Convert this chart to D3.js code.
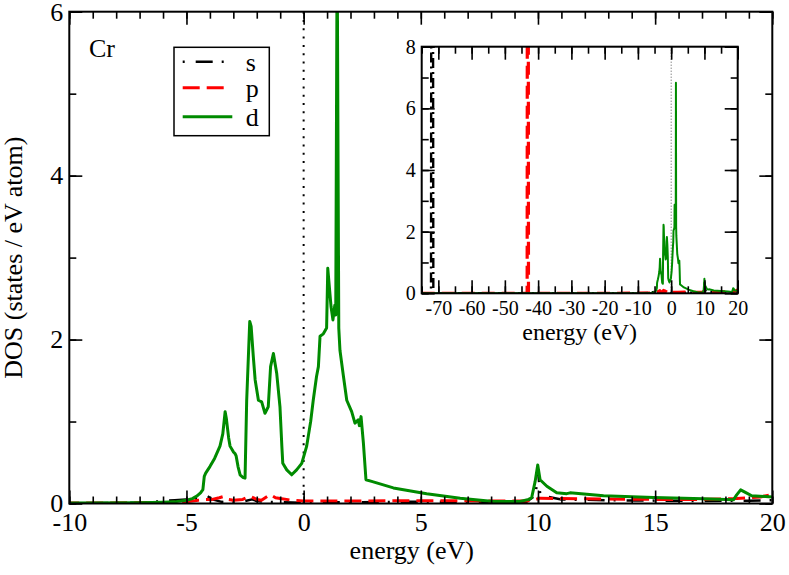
<!DOCTYPE html>
<html>
<head>
<meta charset="utf-8">
<script src="https://cdn.jsdelivr.net/npm/d3@7/dist/d3.min.js"></script>
<style>
    body { margin: 0; background: #fff; }
    svg { display: block; font-family: 'Liberation Serif', 'Times New Roman', serif; }
</style>
</head>
<body>
<svg id="chart" width="789" height="575"></svg>
<script>
// partial DOS of Cr
const seriesNames = ['s', 'p', 'd'];

const sEnergy = [-75, -72.2, -71.9, -71.5, -20, -10, -7, -6, -5.5, -5, -4.6, -4.28, -4.1, -3.9, -3.5, -3, -2.5, -2.2, -2, -1.5, -1, 0, 2, 4, 6, 8, 9.5, 9.9, 10.0, 10.1, 11, 13, 15, 17, 19, 20];
const sDos    = [0, 0, 40, 0, 0, 0.002, 0.01, 0.03, 0.04, 0.05, 0.06, 0.085, 0.09, 0.05, 0.02, 0.015, 0.03, 0.05, 0.03, 0.02, 0.015, 0.01, 0.015, 0.02, 0.02, 0.015, 0.02, 0.1, 0.4, 0.1, 0.05, 0.04, 0.035, 0.03, 0.035, 0.04];

const pEnergy = [-75, -43.3, -43.1, -42.9, -20, -10, -6, -5, -4.5, -4.2, -3.9, -3.6, -3.42, -3.2, -3.0, -2.6, -2.29, -2.0, -1.8, -1.43, -1.2, -1.0, -0.5, 0, 2, 4, 6, 8, 9.5, 9.9, 10.1, 11, 13, 15, 17, 18.5, 19.5, 20];
const pDos    = [0, 0, 40, 0, 0, 0.005, 0.01, 0.02, 0.04, 0.05, 0.05, 0.07, 0.085, 0.05, 0.04, 0.05, 0.09, 0.05, 0.04, 0.11, 0.07, 0.06, 0.04, 0.03, 0.03, 0.035, 0.035, 0.03, 0.03, 0.05, 0.065, 0.06, 0.055, 0.05, 0.05, 0.06, 0.08, 0.11];

const dEnergy = [-75, -20, -10, -7, -6, -5.5, -5.0, -4.75, -4.56, -4.4, -4.3, -4.24, -4.18, -4.0, -3.8, -3.57, -3.45, -3.35, -3.3, -3.2, -3.14, -3.0, -2.93, -2.88, -2.8, -2.71, -2.6, -2.5, -2.43, -2.3, -2.24, -2.15, -2.07, -1.93, -1.79, -1.65, -1.51, -1.41, -1.29, -1.15, -1.01, -0.93, -0.89, -0.72, -0.51, -0.3, -0.08, 0.13, 0.3, 0.41, 0.55, 0.63, 0.7, 0.84, 0.98, 1.03, 1.17, 1.25, 1.33, 1.37, 1.43, 1.5, 1.55, 1.7, 1.84, 2.05, 2.19, 2.33, 2.38, 2.45, 2.55, 2.66, 2.9, 3.83, 5.25, 6.68, 8.1, 9.24, 9.6, 9.73, 9.88, 9.99, 10.09, 10.38, 10.8, 11.23, 11.37, 12.8, 14.93, 17.06, 18.34, 18.48, 18.65, 18.91, 19.12, 20];
const dDos    = [0, 0, 0.005, 0.01, 0.015, 0.02, 0.04, 0.06, 0.09, 0.13, 0.17, 0.33, 0.37, 0.45, 0.55, 0.7, 0.85, 1.12, 1.04, 0.8, 0.7, 0.63, 0.61, 0.58, 0.45, 0.35, 0.32, 0.31, 1.26, 2.22, 2.16, 1.8, 1.51, 1.26, 1.24, 1.1, 1.18, 1.67, 1.83, 1.59, 1.18, 0.7, 0.49, 0.41, 0.35, 0.41, 0.49, 0.7, 1.0, 1.26, 1.55, 1.67, 2.04, 2.07, 2.14, 2.87, 2.4, 2.24, 2.42, 2.3, 6.83, 2.14, 1.87, 1.55, 1.26, 1.12, 0.98, 1.02, 0.95, 1.06, 0.74, 0.29, 0.27, 0.19, 0.12, 0.065, 0.025, 0.025, 0.05, 0.07, 0.27, 0.47, 0.29, 0.21, 0.13, 0.12, 0.13, 0.094, 0.073, 0.057, 0.045, 0.105, 0.167, 0.127, 0.094, 0.08];

const mainXTicks = [-10, -5, 0, 5, 10, 15, 20];
const mainYTicks = [0, 2, 4, 6];
const insetXTicks = [-70, -60, -50, -40, -30, -20, -10, 0, 10, 20];
const insetYTicks = [0, 2, 4, 6, 8];

const colors = { s: '#000000', p: '#ff0000', d: '#008b00' };
const serif = "'Liberation Serif', 'Times New Roman', serif";

class DosPanel {
    constructor (config, series) {
        this.config = {
            parent: config.parent,
            id: config.id,
            left: config.left,
            top: config.top,
            width: config.width,
            height: config.height,
            xdomain: config.xdomain,
            ydomain: config.ydomain,
            xticks: config.xticks,
            xminor: config.xminor,
            yticks: config.yticks,
            yminor: config.yminor,
            tickFont: config.tickFont || 26,
            labelFont: config.labelFont || 26,
            xlabel: config.xlabel || '',
            ylabel: config.ylabel || '',
            xpad: config.xpad || 9,
            ypad: config.ypad || 6,
            xlabelX: config.xlabelX || 0,
            xlabelY: config.xlabelY,
            ylabelX: config.ylabelX,
            zeroStyle: config.zeroStyle,
            background: config.background || false
        };
        this.series = series;
        this.init();
    }

    init() {
        let self = this;
        const c = self.config;

        self.chart = c.parent.append('g')
            .attr('transform', `translate(${c.left}, ${c.top})`);

        if (c.background) {
            self.chart.append('rect')
                .attr('width', c.width)
                .attr('height', c.height)
                .attr('fill', '#fff');
        }

        self.xscale = d3.scaleLinear().domain(c.xdomain).range([0, c.width]);
        self.yscale = d3.scaleLinear().domain(c.ydomain).range([c.height, 0]);

        self.chart.append('clipPath')
            .attr('id', c.id + '-clip')
            .append('rect')
            .attr('width', c.width)
            .attr('height', c.height);

        self.render();
    }

    axis(gen, scale, values, size, labels, transform, pad) {
        let self = this;
        const c = self.config;
        const a = gen(scale)
            .tickValues(values)
            .tickSize(-size)
            .tickSizeOuter(0)
            .tickPadding(pad || 0)
            .tickFormat(labels ? d => String(d) : '');
        const g = self.chart.append('g')
            .attr('transform', transform)
            .call(a)
            .attr('font-family', serif)
            .attr('font-size', c.tickFont);
        g.select('.domain').remove();
        g.selectAll('line').attr('stroke', '#000').attr('stroke-width', 1.6);
        g.selectAll('text')
            .style('font-family', serif)
            .style('font-size', c.tickFont + 'px')
            .attr('fill', '#000');
        return g;
    }

    render() {
        let self = this;
        const c = self.config;

        const plot = self.chart.append('g')
            .attr('clip-path', `url(#${c.id}-clip)`);

        // dotted line at the Fermi level
        plot.append('line')
            .attr('x1', self.xscale(0))
            .attr('x2', self.xscale(0))
            .attr('y1', 0)
            .attr('y2', c.height)
            .attr('stroke', c.zeroStyle.color)
            .attr('stroke-width', c.zeroStyle.width)
            .attr('stroke-dasharray', c.zeroStyle.dash);

        const line = d3.line()
            .x(d => self.xscale(d[0]))
            .y(d => self.yscale(d[1]));

        plot.selectAll('.dos')
            .data(self.series)
            .join('path')
            .attr('class', 'dos')
            .attr('d', d => line(d3.zip(d.energy, d.dos)))
            .attr('fill', 'none')
            .attr('stroke', d => d.color)
            .attr('stroke-width', d => d.width)
            .attr('stroke-dasharray', d => d.dash)
            .attr('stroke-linejoin', 'round');

        // ticks point inward on all four sides
        self.axis(d3.axisBottom, self.xscale, c.xminor, 7, false, `translate(0, ${c.height})`);
        self.axis(d3.axisBottom, self.xscale, c.xticks, 13, true, `translate(0, ${c.height})`, c.xpad);
        self.axis(d3.axisTop, self.xscale, c.xminor, 7, false, 'translate(0, 0)');
        self.axis(d3.axisTop, self.xscale, c.xticks, 13, false, 'translate(0, 0)');
        self.axis(d3.axisLeft, self.yscale, c.yminor, 7, false, 'translate(0, 0)');
        self.axis(d3.axisLeft, self.yscale, c.yticks, 13, true, 'translate(0, 0)', c.ypad);
        self.axis(d3.axisRight, self.yscale, c.yminor, 7, false, `translate(${c.width}, 0)`);
        self.axis(d3.axisRight, self.yscale, c.yticks, 13, false, `translate(${c.width}, 0)`);

        self.chart.append('rect')
            .attr('width', c.width)
            .attr('height', c.height)
            .attr('fill', 'none')
            .attr('stroke', '#000')
            .attr('stroke-width', 2);

        self.chart.append('text')
            .attr('x', c.width / 2 + c.xlabelX)
            .attr('y', c.xlabelY)
            .attr('text-anchor', 'middle')
            .style('font-family', serif)
            .style('font-size', c.labelFont + 'px')
            .text(c.xlabel);

        if (c.ylabel) {
            self.chart.append('text')
                .attr('transform', `translate(${c.ylabelX}, ${c.height / 2}) rotate(-90)`)
                .attr('text-anchor', 'middle')
                .style('font-family', serif)
                .style('font-size', c.labelFont + 'px')
                .text(c.ylabel);
        }
    }
}

const svg = d3.select('#chart');
svg.append('rect').attr('width', 789).attr('height', 575).attr('fill', '#fff');

const mainSeries = [
    { name: 's', energy: sEnergy, dos: sDos, color: colors.s, width: 2.5, dash: '2,11,17,9' },
    { name: 'p', energy: pEnergy, dos: pDos, color: colors.p, width: 3, dash: '17,7' },
    { name: 'd', energy: dEnergy, dos: dDos, color: colors.d, width: 3, dash: null }
];

const mainPanel = new DosPanel({
    parent: svg,
    id: 'main',
    left: 69.3, top: 11.7, width: 703, height: 491.8,
    xdomain: [-10, 20], ydomain: [0, 6],
    xticks: mainXTicks, xminor: d3.range(-10, 21, 1),
    yticks: mainYTicks, yminor: d3.range(0, 7, 1),
    tickFont: 26, labelFont: 26, xpad: 9, ypad: 6,
    xlabel: 'energy (eV)', ylabel: 'DOS (states / eV atom)',
    xlabelX: -9, xlabelY: 547, ylabelX: -47,
    zeroStyle: { color: '#000', width: 2, dash: '2,6.3' }
}, mainSeries);

// label and legend of the main panel
svg.append('text')
    .attr('x', 89).attr('y', 57)
    .style('font-family', serif)
    .style('font-size', '26px')
    .text('Cr');

const legend = svg.append('g').attr('transform', 'translate(174, 47.3)');
legend.append('rect')
    .attr('width', 95.3).attr('height', 88.4)
    .attr('fill', '#fff').attr('stroke', '#000').attr('stroke-width', 1.5);
const legendRows = [14.4, 40.4, 69.4];
const legendLen = [41.3, 41.3, 49.6];
legend.selectAll('.entry')
    .data(mainSeries)
    .join('g')
    .attr('class', 'entry')
    .attr('transform', (d, i) => `translate(8.7, ${legendRows[i]})`)
    .each(function (d, i) {
        const g = d3.select(this);
        g.append('line')
            .attr('x1', 0).attr('x2', legendLen[i])
            .attr('stroke', d.color)
            .attr('stroke-width', d.width)
            .attr('stroke-dasharray', d.dash);
        g.append('text')
            .attr('x', 63).attr('y', 9.5)
            .style('font-family', serif)
            .style('font-size', '26px')
            .text(seriesNames[i]);
    });

const insetSeries = [
    { name: 's', energy: sEnergy, dos: sDos, color: colors.s, width: 2.4, dash: '10,4,2,4' },
    { name: 'p', energy: pEnergy, dos: pDos, color: colors.p, width: 3.2, dash: '13,7' },
    { name: 'd', energy: dEnergy, dos: dDos, color: colors.d, width: 2, dash: null }
];

const insetPanel = new DosPanel({
    parent: svg,
    id: 'inset',
    left: 421.7, top: 46.7, width: 316, height: 246.6,
    xdomain: [-75, 20], ydomain: [0, 8],
    xticks: insetXTicks, xminor: d3.range(-75, 21, 5),
    yticks: insetYTicks, yminor: d3.range(0, 9, 1),
    tickFont: 20, labelFont: 24, xpad: 7.5, ypad: 6,
    xlabel: 'energy (eV)',
    xlabelY: 293.5,
    zeroStyle: { color: '#555', width: 1, dash: '1,2' },
    background: true
}, insetSeries);
</script>
</body>
</html>
